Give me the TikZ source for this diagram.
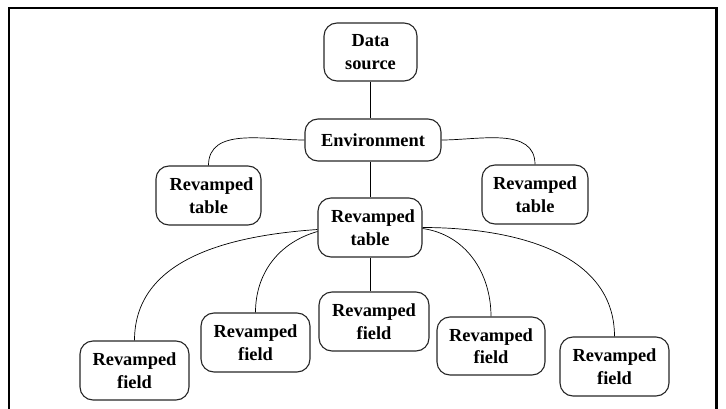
\documentclass[tikz,border=0pt]{standalone}
\usepackage{fontspec}
\setmainfont{Liberation Serif}
\usetikzlibrary{calc}
\begin{document}
\begin{tikzpicture}[x=1pt,y=1pt,
  box/.style={draw=black!85, line width=1.1pt, rounded corners=13pt, align=center,
    inner sep=0pt, font=\bfseries\fontsize{18.4}{22.5}\selectfont},
  conn/.style={draw, line width=0.7pt}]
\useasboundingbox (0,0) rectangle (726,-409);
% frame
\draw[line width=2.4pt] (9,-409) -- (9,-8) -- (716.5,-8) -- (716.5,-409);
% nodes
\node[box, minimum width=93pt, minimum height=58pt] (ds) at (370.5,-52) {Data\\source};
\node[box, minimum width=136pt, minimum height=42pt] (env) at (373,-140) {Environment};
\node[box, minimum width=105pt, minimum height=59pt] (lt) at (208.5,-195.5) {\hspace*{6pt}Revamped\\table};
\node[box, minimum width=106pt, minimum height=59pt] (rt) at (535,-194.5) {Revamped\\table};
\node[box, minimum width=104pt, minimum height=59pt] (mt) at (370,-227.5) {\hspace*{6pt}Revamped\\table};
\node[box, minimum width=109pt, minimum height=59pt] (f1) at (134.5,-370.5) {Revamped\\field};
\node[box, minimum width=109pt, minimum height=59pt] (f2) at (255.5,-342.5) {Revamped\\field};
\node[box, minimum width=110pt, minimum height=59pt] (f3) at (374,-321.5) {Revamped\\field};
\node[box, minimum width=108pt, minimum height=58pt] (f4) at (491,-346) {Revamped\\field};
\node[box, minimum width=109pt, minimum height=59pt] (f5) at (614.5,-366.5) {Revamped\\field};
% anchor points
\coordinate (mtl1) at ($(mt.west)+(0,-2)$);
\coordinate (mtl2) at ($(mt.west)+(0,-4)$);
\coordinate (mtr1) at ($(mt.east)+(0,-1)$);
\coordinate (mtr2) at ($(mt.east)+(0,0)$);
% connectors
\draw[conn] (ds.south) -- (ds.south |- env.north);
\draw[conn] (env.west) to[out=180,in=90] (lt.north);
\draw[conn] (env.east) to[out=0,in=90] (rt.north);
\draw[conn] (env.south -| mt.north) -- (mt.north);
\draw[conn] (mtl1) to[out=184,in=90] (f1.north);
\draw[conn] (mtl2) to[out=196,in=90] (f2.north);
\draw[conn] (mt.south) -- (mt.south |- f3.north);
\draw[conn] (mtr1) to[out=-8,in=90] (f4.north);
\draw[conn] (mtr2) to[out=0,in=90] (f5.north);
\end{tikzpicture}
\end{document}
